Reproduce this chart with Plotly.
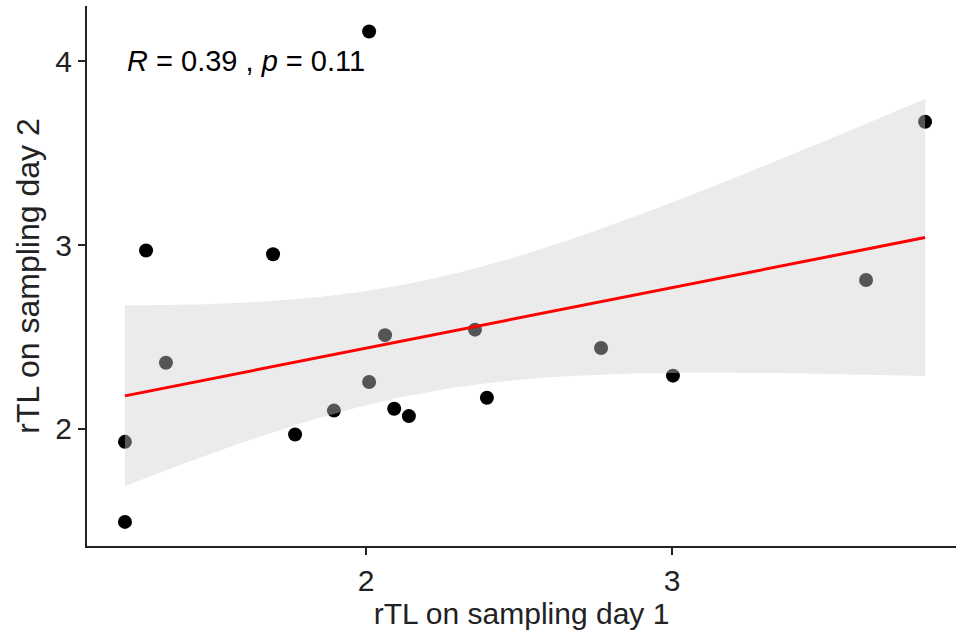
import numpy as np
import plotly.graph_objects as go

# ---- data ----
day1 = [1.212, 1.212, 1.281, 1.346, 1.696, 1.768, 1.895, 2.010, 2.010,
        2.062, 2.092, 2.140, 2.356, 2.395, 2.768, 3.003, 3.634, 3.827]
day2 = [1.495, 1.930, 2.970, 2.360, 2.950, 1.970, 2.100, 2.255, 4.160,
        2.510, 2.110, 2.070, 2.540, 2.170, 2.440, 2.290, 2.810, 3.670]
x_ticks = [2, 3]
y_ticks = [2, 3, 4]
cor_R = "0.39"
cor_p = "0.11"
x_title = "rTL on sampling day 1"
y_title = "rTL on sampling day 2"

# ---- linear model with 95% confidence band (as geom_smooth(method="lm")) ----
x = np.array(day1)
y = np.array(day2)
n = len(x)
b1, b0 = np.polyfit(x, y, 1)
resid = y - (b0 + b1 * x)
s = np.sqrt(np.sum(resid ** 2) / (n - 2))
sxx = np.sum((x - x.mean()) ** 2)
t_crit = 2.119905  # t(0.975, df=16)
xs = np.linspace(x.min(), x.max(), 80)
fit = b0 + b1 * xs
se = s * np.sqrt(1.0 / n + (xs - x.mean()) ** 2 / sxx)
lo = fit - t_crit * se
hi = fit + t_crit * se

fig = go.Figure()
fig.add_trace(go.Scatter(x=day1, y=day2, mode="markers",
                         marker=dict(color="black", size=14, line=dict(width=0)),
                         showlegend=False, hoverinfo="x+y"))
fig.add_trace(go.Scatter(x=np.concatenate([xs, xs[::-1]]),
                         y=np.concatenate([hi, lo[::-1]]),
                         fill="toself", fillcolor="rgba(206,206,206,0.41)",
                         line=dict(width=0), mode="lines",
                         showlegend=False, hoverinfo="skip"))
fig.add_trace(go.Scatter(x=xs, y=fit, mode="lines",
                         line=dict(color="#ff0000", width=3),
                         showlegend=False))

fig.add_annotation(x=min(day1), y=4.0, xref="x", yref="y",
                   text=f"<i>R</i> = {cor_R} , <i>p</i> = {cor_p}",
                   showarrow=False, xanchor="left", yanchor="middle",
                   font=dict(family="Liberation Sans, Arial", size=29, color="black"))

axis_common = dict(showline=True, linewidth=2, linecolor="#222",
                   ticks="outside", ticklen=7, tickwidth=2, tickcolor="#222",
                   showgrid=False, zeroline=False,
                   tickfont=dict(family="Liberation Sans, Arial", size=30, color="#222"))

fig.update_layout(
    width=956, height=640,
    margin=dict(l=87, r=0, t=6, b=94),
    paper_bgcolor="white", plot_bgcolor="white",
    font=dict(family="Liberation Sans, Arial"),
    xaxis=dict(range=[1.088, 3.928], tickvals=x_ticks,
               title=dict(text=x_title, standoff=7,
                          font=dict(family="Liberation Sans, Arial", size=30, color="#222")),
               **axis_common),
    yaxis=dict(range=[1.364, 4.299], tickvals=y_ticks,
               title=dict(text=y_title, standoff=6,
                          font=dict(family="Liberation Sans, Arial", size=32, color="#222")),
               **axis_common),
)

fig.write_html("out.html")
